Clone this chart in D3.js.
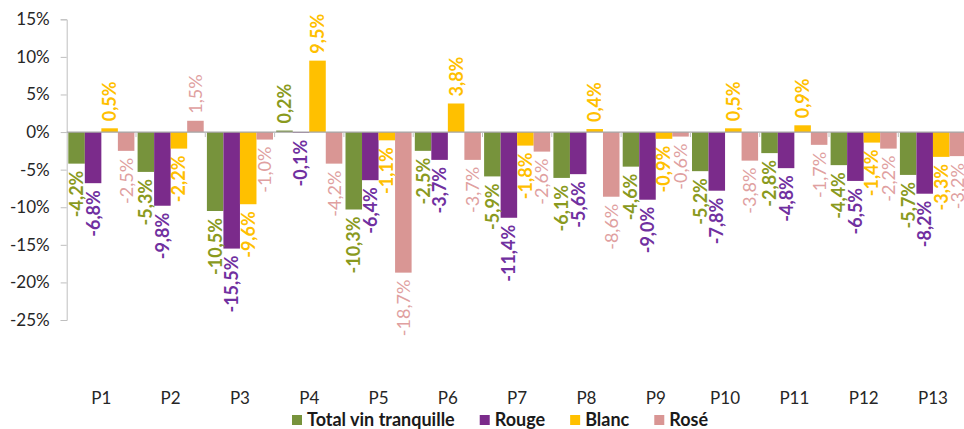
<!doctype html>

<meta charset="utf-8">
<title>Evolution vin tranquille</title>

<style>
  body { margin: 0; background: #fff; }
  svg { display: block; font-family: Lato, "Open Sans", sans-serif; }
</style>

<svg id="visual" width="964" height="429"></svg>

<script src="https://cdn.jsdelivr.net/npm/d3@7"></script>

<script>

// (data)
var periods = ["P1", "P2", "P3", "P4", "P5", "P6", "P7", "P8", "P9", "P10", "P11", "P12", "P13"];
var seriesNames = ["Total vin tranquille", "Rouge", "Blanc", "Rosé"];
var total = [-4.2, -5.3, -10.5, 0.2, -10.3, -2.5, -5.9, -6.1, -4.6, -5.2, -2.8, -4.4, -5.7];
var rouge = [-6.8, -9.8, -15.5, -0.1, -6.4, -3.7, -11.4, -5.6, -9.0, -7.8, -4.8, -6.5, -8.2];
var blanc = [0.5, -2.2, -9.6, 9.5, -1.1, 3.8, -1.8, 0.4, -0.9, 0.5, 0.9, -1.4, -3.3];
var rose = [-2.5, 1.5, -1.0, -4.2, -18.7, -3.7, -2.6, -8.6, -0.6, -3.8, -1.7, -2.2, -3.2];
var yTicks = [-25, -20, -15, -10, -5, 0, 5, 10, 15];

// (styles)
var barColors = ["#77933c", "#7b2b8b", "#ffc000", "#d99694"];
var labelColors = ["#8a9a1e", "#7030a0", "#ffc000", "#e0a0a0"];
var labelWeights = ["bold", "bold", "bold", "normal"];

var seriesValues = [total, rouge, blanc, rose];

var bars = [];
periods.forEach(function(p, i) {
	seriesNames.forEach(function(s, j) {
		bars.push({period: p, series: j, value: seriesValues[j][i]});
	});
});

// (svg)
var svg = d3.select("#visual");

// (scales)
var bandW = 69.3;
var x = d3.scaleBand()
	.domain(periods)
	.range([66.7, 66.7 + bandW * periods.length]);

var xs = d3.scaleBand()
	.domain(d3.range(seriesNames.length))
	.range([1.6, bandW - 1.6]);

var y = d3.scaleLinear()
	.domain([-25, 15])
	.range([320, 19.3]);

var fmt = function(v) { return d3.format(".1f")(v).replace(".", ",").replace("−", "-") + "%"; };

// (y axis)
var yAxis = svg.append("g")
	.attr("transform", "translate(66.7,0)")
	.call(d3.axisLeft(y)
		.tickValues(yTicks)
		.tickSize(6)
		.tickPadding(11)
		.tickFormat(function(d) { return d + "%"; }));

yAxis.select(".domain").attr("stroke", "#bfbfbf");
yAxis.selectAll(".tick line").attr("stroke", "#bfbfbf");
yAxis.selectAll(".tick text")
	.attr("fill", "#262626")
	.attr("font-size", "17px")
	.attr("font-family", "Lato, sans-serif");

// (bars)
svg.append("g")
	.selectAll("rect")
	.data(bars)
	.enter()
	.append("rect")
	.attr("x", function(d) { return x(d.period) + xs(d.series); })
	.attr("width", xs.bandwidth())
	.attr("y", function(d) { return y(Math.max(0, d.value)); })
	.attr("height", function(d) { return Math.abs(y(d.value) - y(0)); })
	.attr("fill", function(d) { return barColors[d.series]; });

// (zero line and category ticks)
svg.append("line")
	.attr("x1", 66.7)
	.attr("x2", 964)
	.attr("y1", y(0))
	.attr("y2", y(0))
	.attr("stroke", "#a6a6a6")
	.attr("stroke-width", 1.3);

svg.append("g")
	.selectAll("line")
	.data(periods.slice(1))
	.enter()
	.append("line")
	.attr("x1", function(d) { return x(d); })
	.attr("x2", function(d) { return x(d); })
	.attr("y1", y(0))
	.attr("y2", y(0) + 5)
	.attr("stroke", "#bfbfbf");

// (value labels)
svg.append("g")
	.selectAll("text")
	.data(bars)
	.enter()
	.append("text")
	.attr("transform", function(d) {
		var cx = x(d.period) + xs(d.series) + xs.bandwidth() / 2;
		var cy = d.value < 0 ? y(d.value) + 7 : y(d.value) - 7;
		return "translate(" + cx + "," + cy + ") rotate(-90)";
	})
	.attr("dy", "0.36em")
	.attr("text-anchor", function(d) { return d.value < 0 ? "end" : "start"; })
	.attr("fill", function(d) { return labelColors[d.series]; })
	.attr("font-weight", function(d) { return labelWeights[d.series]; })
	.attr("font-size", "18px")
	.text(function(d) { return fmt(d.value); });

// (category labels)
svg.append("g")
	.selectAll("text")
	.data(periods)
	.enter()
	.append("text")
	.attr("x", function(d) { return x(d) + x.bandwidth() / 2; })
	.attr("y", 404)
	.attr("text-anchor", "middle")
	.attr("fill", "#262626")
	.attr("font-size", "17px")
	.text(function(d) { return d; });

// (legend)
var legend = svg.append("g").attr("transform", "translate(292,0)");
var lx = 0;
seriesNames.forEach(function(s, i) {
	legend.append("rect")
		.attr("x", lx)
		.attr("y", 415)
		.attr("width", 10)
		.attr("height", 10)
		.attr("fill", barColors[i]);
	var t = legend.append("text")
		.attr("x", lx + 15)
		.attr("y", 426)
		.attr("font-size", "18px")
		.attr("font-weight", "bold")
		.attr("fill", "#1a1a1a")
		.text(s);
	lx += 15 + t.node().getComputedTextLength() + 25;
});

</script>
